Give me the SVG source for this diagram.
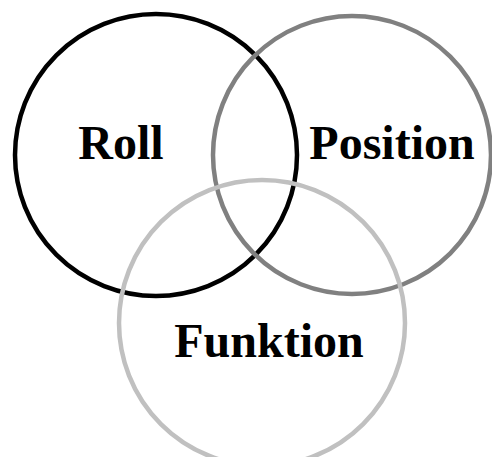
<svg xmlns="http://www.w3.org/2000/svg" width="492" height="457" viewBox="0 0 492 457">
<style>
.c{fill:none;stroke-width:4.5}
.t{font-family:"Liberation Serif","Times New Roman",serif;font-weight:bold;font-size:48px;text-anchor:middle;fill:#000}
</style>
<rect width="492" height="457" fill="#fff"/>
<g id="roll"><circle class="c" cx="156" cy="155" r="141" stroke="#000"/><text class="t" x="121" y="159">Roll</text></g>
<g id="position"><circle class="c" cx="352" cy="155" r="139" stroke="#808080"/><text class="t" x="392" y="159">Position</text></g>
<g id="funktion"><circle class="c" cx="262" cy="323" r="143" stroke="#c0c0c0"/><text class="t" x="269" y="357">Funktion</text></g>
<g id="connectors"></g>
</svg>
